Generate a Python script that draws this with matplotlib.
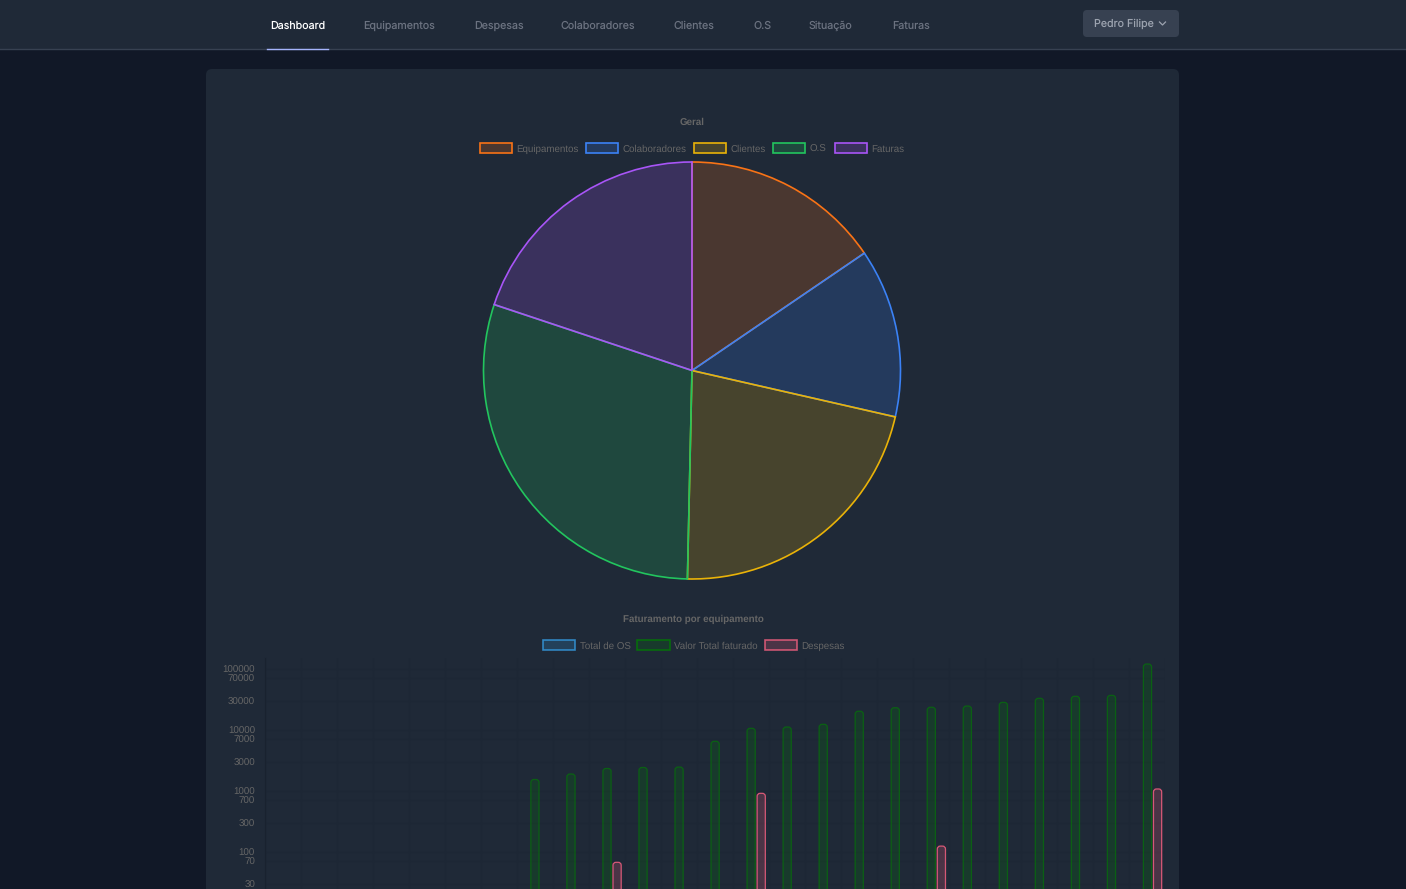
import matplotlib
matplotlib.use('Agg')
from matplotlib import pyplot as plt
from matplotlib.patches import FancyBboxPatch, Rectangle
from matplotlib.colors import to_rgba
from matplotlib.transforms import IdentityTransform

plt.rcParams['text.hinting'] = 'none'

## data

nav_items   = ['Dashboard', 'Equipamentos', 'Despesas', 'Colaboradores',
               'Clientes', 'O.S', 'Situação', 'Faturas']
user_name   = 'Pedro Filipe'

pie_title   = 'Geral'
pie_labels  = ['Equipamentos', 'Colaboradores', 'Clientes', 'O.S', 'Faturas']
pie_values  = [155, 131, 218, 298, 199]
pie_colors  = ['#f97316', '#3b82f6', '#eab308', '#22c55e', '#a855f7']

bar_title   = 'Faturamento por equipamento'
bar_labels  = ['Total de OS', 'Valor Total faturado', 'Despesas']
bar_colors  = ['#36a2eb', '#008000', '#ff6384']

green_idx   = list(range(7, 25))
green_vals  = [1545, 1900, 2340, 2430, 2470, 6530, 10660, 11200, 12400, 20300,
               23200, 23600, 24700, 28400, 33100, 35700, 37000, 120800]
red_idx     = [9, 13, 18, 24]
red_vals    = [67.8, 916, 125, 1080]
y_ticks     = [100000, 70000, 30000, 10000, 7000, 3000, 1000, 700, 300, 100, 70, 30]
n_cat       = 25

W, H = 1406, 889
PAGE, PANEL, LINE = '#111827', '#1f2937', '#374151'
UI_FONT = 'Inter'
CHART_FONT = 'Liberation Sans'

fig = plt.figure(figsize=(W / 100, H / 100), dpi=100, facecolor=PAGE)

# page layer in pixel coordinates
bg = fig.add_axes([0, 0, 1, 1])
bg.set_xlim(0, W)
bg.set_ylim(H, 0)
bg.axis('off')

bg.add_patch(Rectangle((0, 0), W, 49, fc=PANEL, ec='none'))
bg.plot([0, W], [49, 49], color=LINE, lw=1)
bg.plot([267, 328], [49, 49], color='#a5b4fc', lw=1)
bg.add_patch(FancyBboxPatch((210, 73), 965, 900, boxstyle='round,pad=4,rounding_size=6',
                            fc=PANEL, ec='none'))
bg.add_patch(FancyBboxPatch((1086, 13), 90, 21, boxstyle='round,pad=3,rounding_size=4',
                            fc=LINE, ec='none'))

nav_x = [270, 363, 474.5, 560.5, 673, 753, 809, 892]
for i, (name, x) in enumerate(zip(nav_items, nav_x)):
    bg.text(x, 29, name, color='#ffffff' if i == 0 else '#6b7280', fontsize=7.7,
            family=UI_FONT, va='baseline', ha='left')
bg.text(1093.5, 27, user_name, color='#9ca3af', fontsize=7.7, family=UI_FONT,
        va='baseline', ha='left')
bg.plot([1159.5, 1162.5, 1165.5], [22, 25, 22], color='#9ca3af', lw=0.9)


def legend(labels, colors, alpha, xs, y, edge=1.0):
    for name, col, x in zip(labels, colors, xs):
        bg.add_patch(Rectangle((x, y - 5), 32.5, 10, fc=to_rgba(col, alpha),
                               ec=to_rgba(col, edge), lw=1.2))
        bg.text(x + 37, y + 3.5, name, color='#666666', fontsize=7.0, family=CHART_FONT,
                va='baseline', ha='left')


bg.text(692, 124.5, pie_title, color='#666666', fontsize=7.0, family=CHART_FONT,
        fontweight='bold', va='baseline', ha='center')
legend(pie_labels, pie_colors, 0.2, [479.5, 585.5, 693.5, 772.5, 834.5], 148)

bg.text(693, 621.5, bar_title, color='#666666', fontsize=7.0, family=CHART_FONT,
        fontweight='bold', va='baseline', ha='center')
legend(bar_labels, bar_colors, 0.2, [542.5, 637, 764.5], 645, edge=0.75)

# pie
cx, cy, r = 692, 370.5, 208.5
ax_pie = fig.add_axes([(cx - r - 2) / W, 1 - (cy + r + 2) / H, (2 * r + 4) / W, (2 * r + 4) / H])
ax_pie.patch.set_visible(False)
wedges, _ = ax_pie.pie(pie_values, startangle=90, counterclock=False, radius=1,
                       colors=[to_rgba(c, 0.2) for c in pie_colors])
for w, c in zip(wedges, pie_colors):
    w.set_edgecolor(c)
    w.set_linewidth(1.2)
ax_pie.set_xlim(-(r + 2) / r, (r + 2) / r)
ax_pie.set_ylim(-(r + 2) / r, (r + 2) / r)

# bars, log axis cut by the bottom of the screenshot
x0, x1, top = 264.7, 1165.5, 658
ax = fig.add_axes([x0 / W, 0, (x1 - x0) / W, 1 - top / H])
ax.patch.set_visible(False)
ax.set_yscale('log')
ax.set_xlim(-0.5, n_cat - 0.5)
ax.set_ylim(10 ** (5 - (H - 669) / 61), 10 ** (5 + 11 / 61))
ax.set_yticks(y_ticks)
ax.set_yticklabels([str(t) for t in y_ticks], color='#666666', fontsize=7.0,
                   family=CHART_FONT, va='center_baseline')
ax.minorticks_off()
ax.set_xticks([i - 0.5 for i in range(n_cat + 1)])
ax.set_xticklabels([])
ax.tick_params(axis='y', length=0, pad=7)
ax.tick_params(axis='x', length=0)
ax.grid(True, color='#1d2735', lw=0.8)
ax.set_axisbelow(True)
for s in ['top', 'right', 'bottom']:
    ax.spines[s].set_visible(False)
ax.spines['left'].set_color('#19222f')
ax.spines['left'].set_linewidth(0.8)


def rounded_bar(x, value, color, edge, width=8.2):
    px, py = ax.transData.transform((x, value))
    box = FancyBboxPatch((px - width / 2 + 3, -40), width - 6, py + 40 - 3,
                         boxstyle='round,pad=3,rounding_size=3',
                         fc=to_rgba(color, 0.2), ec=to_rgba(color, edge), lw=0.9,
                         transform=IdentityTransform(), zorder=3)
    ax.add_patch(box)
    box.set_clip_path(ax.patch)


for i, v in zip(green_idx, green_vals):
    rounded_bar(i, v, bar_colors[1], 0.6)
for i, v in zip(red_idx, red_vals):
    rounded_bar(i + 0.28, v, bar_colors[2], 0.8)

fig.savefig('out.png', dpi=100, facecolor=fig.get_facecolor())
